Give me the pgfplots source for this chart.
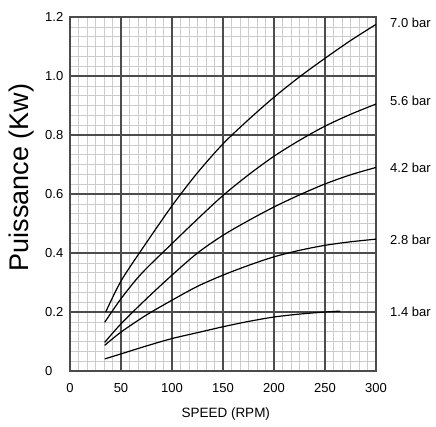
\documentclass[border=0pt]{standalone}
\usepackage{fontspec}
\setmainfont{Liberation Sans}
\usepackage{pgfplots}
\pgfplotsset{compat=1.18}
\definecolor{majgrid}{gray}{0.3}
\definecolor{mingrid}{gray}{0.8}
\tikzset{curve/.style={black, line width=1.2pt, smooth}}
\begin{document}
\begin{tikzpicture}
\path[use as bounding box] (-70pt,-55pt) rectangle (366pt,371pt);
\begin{axis}[
  at={(0,0)}, anchor=south west,
  scale only axis, width=306pt, height=354pt,
  xmin=0, xmax=300, ymin=0, ymax=1.2,
  xtick={0,50,100,150,200,250,300},
  ytick={0,0.2,0.4,0.6,0.8,1.0,1.2},
  xticklabels={0,50,100,150,200,250,300},
  yticklabels={0,0.2,0.4,0.6,0.8,1.0,1.2},
  minor x tick num=5, minor y tick num=5,
  grid=minor,
  minor grid style={mingrid, line width=0.6pt},
  extra x ticks={50,100,150,200,250},
  extra y ticks={0.2,0.4,0.6,0.8,1.0},
  extra x tick labels={}, extra y tick labels={},
  extra tick style={grid=major, major grid style={majgrid, line width=2pt}},
  axis line style={majgrid, line width=2pt},
  major tick length=0pt, minor tick length=0pt,
  tick label style={font=\fontsize{13}{15}\selectfont},
  xticklabel style={anchor=north, inner sep=0pt, yshift=-12pt},
  yticklabel style={anchor=west, inner sep=0pt, xshift=-25pt},
  xlabel={SPEED (RPM)},
  xlabel style={font=\fontsize{13.5}{16}\selectfont, at={(axis description cs:0.509,-0.121)}, anchor=center},
  ylabel={Puissance (Kw)},
  ylabel style={font=\fontsize{27}{30}\selectfont, at={(axis description cs:-0.16,0.547)}, anchor=center},
  clip=false,
]
% 7.0 bar
\addplot[curve] coordinates {(35,0.20) (50,0.305) (70,0.41) (100,0.56) (125,0.672) (150,0.77)
  (175,0.852) (200,0.928) (225,0.997) (250,1.06) (275,1.12) (300,1.175)};
% 5.6 bar
\addplot[curve] coordinates {(34,0.165) (50,0.245) (70,0.33) (100,0.432) (125,0.515)
  (150,0.595) (175,0.665) (200,0.728) (225,0.782) (250,0.83) (275,0.87) (300,0.905)};
% 4.2 bar
\addplot[curve] coordinates {(34,0.097) (50,0.16) (75,0.245) (100,0.325) (125,0.4)
  (150,0.46) (175,0.51) (200,0.556) (225,0.597) (250,0.634) (275,0.665) (300,0.69)};
% 2.8 bar
\addplot[curve] coordinates {(34,0.087) (50,0.132) (75,0.19) (100,0.24) (125,0.287) (150,0.325)
  (175,0.358) (200,0.387) (225,0.409) (250,0.426) (275,0.438) (300,0.447)};
% 1.4 bar
\addplot[curve] coordinates {(34,0.041) (50,0.058) (75,0.085) (100,0.11) (125,0.13) (150,0.15)
  (175,0.168) (200,0.183) (225,0.193) (250,0.2) (265,0.203)};

\node[anchor=west, inner sep=0pt, xshift=14pt, font=\fontsize{13}{15}\selectfont] at (axis cs:300,1.18) {7.0 bar};
\node[anchor=west, inner sep=0pt, xshift=14pt, font=\fontsize{13}{15}\selectfont] at (axis cs:300,0.915) {5.6 bar};
\node[anchor=west, inner sep=0pt, xshift=14pt, font=\fontsize{13}{15}\selectfont] at (axis cs:300,0.69) {4.2 bar};
\node[anchor=west, inner sep=0pt, xshift=14pt, font=\fontsize{13}{15}\selectfont] at (axis cs:300,0.445) {2.8 bar};
\node[anchor=west, inner sep=0pt, xshift=14pt, font=\fontsize{13}{15}\selectfont] at (axis cs:300,0.2) {1.4 bar};
\end{axis}
\end{tikzpicture}
\end{document}
